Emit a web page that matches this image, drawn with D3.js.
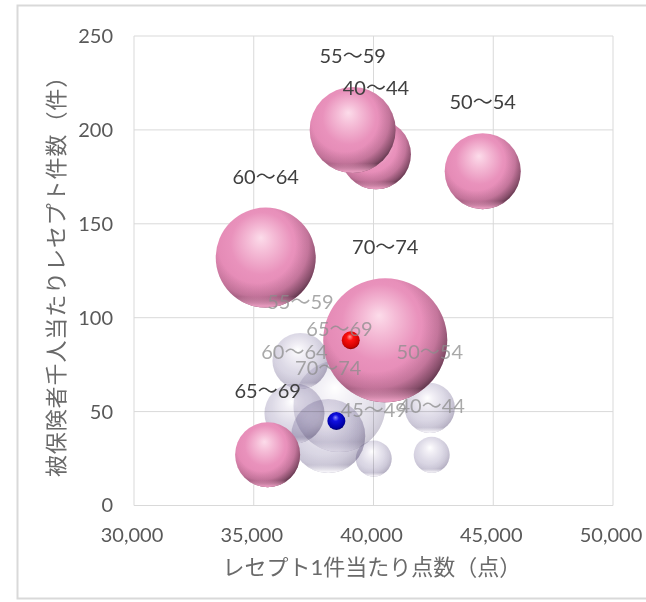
<!DOCTYPE html>
<html><head><meta charset="utf-8">
<script src="https://cdn.jsdelivr.net/npm/d3@7"></script>
<style>html,body{margin:0;padding:0;background:#fff}svg{display:block}text{font-family:Lato,"Noto Sans CJK JP",sans-serif}</style>
</head><body><svg id="c" width="646" height="602"></svg>
<script>
const xTicks=[30000,35000,40000,45000,50000];
const yTicks=[0,50,100,150,200,250];
const xTitle="レセプト1件当たり点数（点）";
const yTitle="被保険者千人当たりレセプト件数（件）";
const pinkAges=["40〜44","50〜54","55〜59","60〜64","65〜69","70〜74"];
const pinkX=[40100,44560,39130,35500,35580,40490];
const pinkY=[187,178,200,132,27,88];
const pinkSize=[319,376,481,650,275,1000];
const greyAges=["45〜49","40〜44","50〜54","55〜59","60〜64","65〜69","70〜74"];
const greyX=[40010,42430,42350,36950,36700,38580,38110];
const greyY=[25,27,52,77,49,53,37];
const greySize=[84,84,163,204,234,550,356];
const refX=[39050,38450];
const refY=[88,45];
const refSize=[21,21];
const refColor=["red","blue"];

const svg=d3.select("#c");
const x=d3.scaleLinear().domain([30000,50000]).range([134,613]);
const y=d3.scaleLinear().domain([0,250]).range([505.5,36]);
const r=d3.scaleSqrt().domain([0,1000]).range([0,62]);
const defs=svg.append("defs");
function ball(id,stops){
  const g=defs.append("radialGradient").attr("id",id).attr("cx",.47).attr("cy",.42).attr("r",.62).attr("fx",.45).attr("fy",.3);
  stops.forEach(s=>g.append("stop").attr("offset",s[0]).attr("stop-color",s[1]));
}
function shade(id,c,k){
  const g=defs.append("radialGradient").attr("id",id).attr("cx",.41).attr("cy",.37).attr("r",.7);
  [[0,0],[.55,0],[.74,.18*k],[.88,.5*k],[1,.92*k]].forEach(s=>g.append("stop").attr("offset",s[0]).attr("stop-color",c).attr("stop-opacity",s[1]));
}
function rim(id,c){
  const g=defs.append("linearGradient").attr("id",id).attr("x1",0).attr("y1",0).attr("x2",0).attr("y2",1);
  g.append("stop").attr("offset",.89).attr("stop-color",c).attr("stop-opacity",0);
  g.append("stop").attr("offset",.98).attr("stop-color",c).attr("stop-opacity",.95);
}
ball("pk",[[0,"#fcdcea"],[.2,"#f5bdd7"],[.5,"#e992bc"],[.85,"#e286b2"],[1,"#dc80ac"]]);
shade("pkS","#2c1824",1);rim("pkR","#e99cc0");
ball("gy",[[0,"#ffffff"],[.2,"#eeebf3"],[.55,"#d4d0e0"],[.85,"#c6c1d5"],[1,"#b8b2c9"]]);
shade("gyS","#6d6580",.55);rim("gyR","#f6f4f9");
ball("rd",[[0,"#ff9a9a"],[.3,"#ff1010"],[.8,"#d00000"],[1,"#700000"]]);
ball("bl",[[0,"#8a8aff"],[.3,"#1010e0"],[.8,"#0000a8"],[1,"#000050"]]);

svg.append("path").attr("d","M646,5.5H17.5V598.5H646").attr("fill","none").attr("stroke","#d9d9d9").attr("stroke-width",2);

const grid=svg.append("g").attr("stroke","#d9d9d9").attr("stroke-width",1);
grid.selectAll("line.v").data(xTicks).join("line").attr("x1",d=>x(d)).attr("x2",d=>x(d)).attr("y1",y(250)).attr("y2",y(0));
grid.selectAll("line.h").data(yTicks).join("line").attr("y1",d=>y(d)).attr("y2",d=>y(d)).attr("x1",x(30000)).attr("x2",x(50000));

const xAxis=svg.append("g").attr("transform",`translate(0,${y(0)})`).call(d3.axisBottom(x).tickValues(xTicks).tickFormat(d3.format(",")).tickSize(0).tickPadding(22));
const yAxis=svg.append("g").attr("transform",`translate(${x(30000)},0)`).call(d3.axisLeft(y).tickValues(yTicks).tickSize(0).tickPadding(21));
[xAxis,yAxis].forEach(a=>{a.select(".domain").remove();a.selectAll("text").attr("font-size",20).attr("fill","#595959").style("font-family","Lato,sans-serif");});
xAxis.selectAll("text").attr("dx",-2.5);

const greyData=greyAges.map((a,i)=>({a,x:greyX[i],y:greyY[i],s:greySize[i]}));
const pinkData=pinkAges.map((a,i)=>({a,x:pinkX[i],y:pinkY[i],s:pinkSize[i]}));
const gg=svg.append("g");
greyData.forEach(d=>{
  const g=gg.append("g").attr("opacity",d.s>500?.55:.8).style("mix-blend-mode","multiply");
  const cx=x(d.x),cy=y(d.y),R=r(d.s);
  g.append("circle").attr("cx",cx).attr("cy",cy).attr("r",R).attr("fill","url(#gy)");
  g.append("circle").attr("cx",cx).attr("cy",cy).attr("r",R).attr("fill","url(#gyS)");
  g.append("circle").attr("cx",cx).attr("cy",cy).attr("r",R).attr("fill","url(#gyR)");
});
const pg=svg.append("g");
pinkData.forEach(d=>{
  const cx=x(d.x),cy=y(d.y),R=r(d.s);
  pg.append("circle").attr("cx",cx).attr("cy",cy).attr("r",R).attr("fill","url(#pk)");
  pg.append("circle").attr("cx",cx).attr("cy",cy).attr("r",R).attr("fill","url(#pkS)");
  pg.append("circle").attr("cx",cx).attr("cy",cy).attr("r",R).attr("fill","url(#pkR)");
});
svg.append("g").selectAll("circle").data(refX).join("circle").attr("cx",d=>x(d)).attr("cy",(d,i)=>y(refY[i])).attr("r",(d,i)=>r(refSize[i])).attr("fill",(d,i)=>`url(#${refColor[i]=="red"?"rd":"bl"})`);

// labels sit above each bubble
const lab=svg.append("g").attr("text-anchor","middle").attr("font-size",20);
lab.selectAll("text.g").data(greyData).join("text").attr("x",d=>x(d.x)).attr("y",d=>y(d.y)-r(d.s)-24).attr("fill","#8c8c8c").attr("fill-opacity",.75).text(d=>d.a);
lab.selectAll("text.p").data(pinkData).join("text").attr("x",d=>x(d.x)).attr("y",d=>y(d.y)-r(d.s)-24).attr("fill","#404040").text(d=>d.a);

svg.append("text").attr("x",372).attr("y",575).attr("text-anchor","middle").attr("font-size",22).attr("fill","#6a6a6a").text(xTitle);
svg.append("text").attr("transform","translate(64,271) rotate(-90)").attr("text-anchor","middle").attr("font-size",22).attr("letter-spacing",0.9).attr("fill","#6a6a6a").text(yTitle);
</script></body></html>
